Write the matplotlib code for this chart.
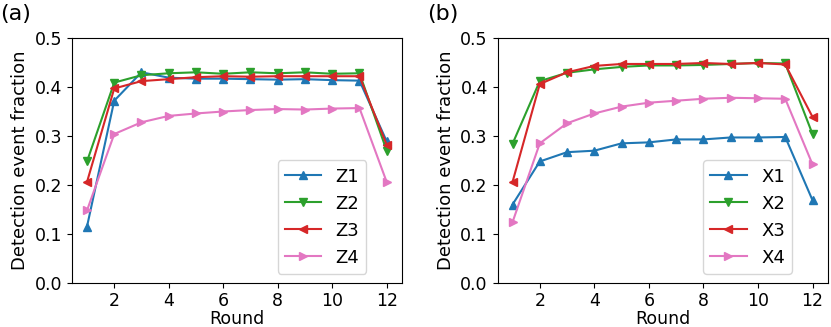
import matplotlib
matplotlib.use("Agg")
import matplotlib.pyplot as plt

rounds = list(range(1, 13))

z1 = [0.115, 0.372, 0.430, 0.419, 0.417, 0.417, 0.416, 0.415, 0.416, 0.414, 0.413, 0.289]
z2 = [0.248, 0.409, 0.424, 0.428, 0.430, 0.427, 0.430, 0.428, 0.430, 0.427, 0.428, 0.270]
z3 = [0.206, 0.397, 0.412, 0.416, 0.420, 0.422, 0.421, 0.422, 0.422, 0.422, 0.422, 0.282]
z4 = [0.148, 0.304, 0.328, 0.341, 0.346, 0.350, 0.353, 0.355, 0.354, 0.356, 0.357, 0.206]

x1 = [0.160, 0.248, 0.267, 0.270, 0.285, 0.287, 0.293, 0.293, 0.297, 0.297, 0.298, 0.169]
x2 = [0.284, 0.412, 0.429, 0.436, 0.441, 0.444, 0.444, 0.445, 0.447, 0.449, 0.448, 0.304]
x3 = [0.206, 0.406, 0.430, 0.443, 0.447, 0.447, 0.447, 0.449, 0.447, 0.449, 0.446, 0.339]
x4 = [0.124, 0.285, 0.326, 0.346, 0.360, 0.368, 0.372, 0.376, 0.378, 0.377, 0.376, 0.242]

z_labels = ["Z1", "Z2", "Z3", "Z4"]
x_labels = ["X1", "X2", "X3", "X4"]
panel_labels = ["(a)", "(b)"]

colors = ["#1f77b4", "#2ca02c", "#d62728", "#e377c2"]
markers = ["^", "v", "<", ">"]

W, H = 831, 327
fig = plt.figure(figsize=(W / 100, H / 100), dpi=100)
ax1 = fig.add_axes([72 / W, 1 - 283 / H, (401.7 - 72) / W, (283 - 38) / H])
ax2 = fig.add_axes([497.5 / W, 1 - 283 / H, (827.5 - 497.5) / W, (283 - 38) / H])

for ax, data, labels in [(ax1, [z1, z2, z3, z4], z_labels),
                         (ax2, [x1, x2, x3, x4], x_labels)]:
    for d, lab, c, m in zip(data, labels, colors, markers):
        ax.plot(rounds, d, color=c, marker=m, label=lab, markersize=6, linewidth=1.5)
    ax.set_ylim(0, 0.5)
    ax.set_xticks([2, 4, 6, 8, 10, 12])
    ax.set_yticks([0.0, 0.1, 0.2, 0.3, 0.4, 0.5])
    ax.tick_params(labelsize=12.5)
    ax.tick_params(axis="x", pad=3)
    ax.set_xlabel("Round", fontsize=12.5, labelpad=0)
    ax.set_ylabel("Detection event fraction", fontsize=13, labelpad=4)
    ax.legend(loc="lower right", bbox_to_anchor=(0.92, 0.0), fontsize=13)

fig.text(0.0, 1 - 14 / H, panel_labels[0], fontsize=16, va="center", ha="left")
fig.text(427 / W, 1 - 14 / H, panel_labels[1], fontsize=16, va="center", ha="left")

fig.savefig("out.png", dpi=100)
